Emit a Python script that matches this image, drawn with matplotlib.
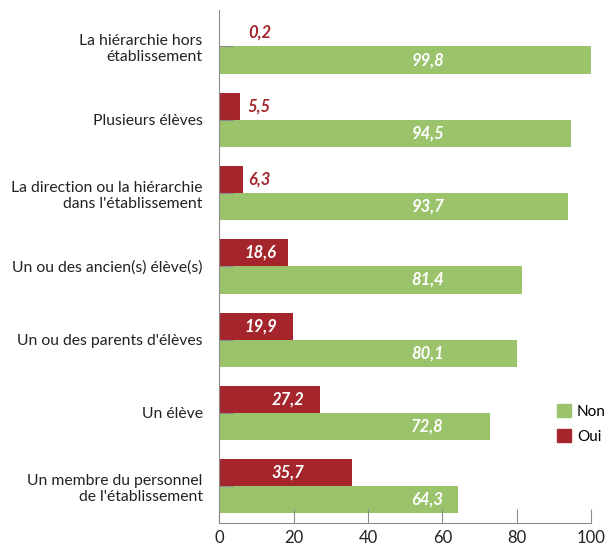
import matplotlib
matplotlib.use("Agg")
import matplotlib.pyplot as plt
import matplotlib.patches as mpatches
import numpy as np

plt.rcParams["font.family"] = ["Lato", "DejaVu Sans"]

categories = [
    "La hiérarchie hors\nétablissement",
    "Plusieurs élèves",
    "La direction ou la hiérarchie\ndans l'établissement",
    "Un ou des ancien(s) élève(s)",
    "Un ou des parents d'élèves",
    "Un élève",
    "Un membre du personnel\nde l'établissement",
]
oui = [0.2, 5.5, 6.3, 18.6, 19.9, 27.2, 35.7]
non = [99.8, 94.5, 93.7, 81.4, 80.1, 72.8, 64.3]

RED = "#A4262C"
GREEN = "#9BC36B"
GREY = "#8C8C8C"

fig = plt.figure(figsize=(6.09, 5.47), dpi=100)
ax = fig.add_axes([0.360, 0.044, 0.611, 0.938])

# top category first
y = np.arange(len(categories))[::-1]
h = 0.37
ax.barh(y + h / 2, oui, height=h, color=RED)
ax.barh(y - h / 2, non, height=h, color=GREEN)

fmt = lambda v: f"{v:.1f}".replace(".", ",")
lab = dict(fontsize=12, fontweight="bold", fontstyle="italic",
           va="center", ha="center")

for yi, v in zip(y, oui):
    # small values sit just past the bar in red, the rest inside in white
    if v < 10:
        ax.text(10.8, yi + h / 2, fmt(v), color=RED, **lab)
    elif v < 20:
        ax.text(11.2, yi + h / 2, fmt(v), color="white", **lab)
    else:
        ax.text(18.5, yi + h / 2, fmt(v), color="white", **lab)

for yi, v in zip(y, non):
    ax.text(56, yi - h / 2, fmt(v), color="white", **lab)

ax.set_xlim(0, 100)
ax.set_ylim(-0.5, len(categories) - 0.5)
ax.set_xticks(range(0, 101, 20))
ax.set_yticks(y)
ax.set_yticklabels(categories, fontsize=11.3, color="#222222", multialignment="right")

for s in ("top", "right"):
    ax.spines[s].set_visible(False)
for s in ("left", "bottom"):
    ax.spines[s].set_color(GREY)
ax.tick_params(axis="x", direction="in", length=10, color=GREY, labelsize=12,
               labelcolor="#222222", pad=5)
ax.tick_params(axis="y", direction="in", length=10, color=GREY, pad=12)

handles = [mpatches.Patch(color=GREEN, label="Non"),
           mpatches.Patch(color=RED, label="Oui")]
fig.legend(handles=handles, loc="center left", bbox_to_anchor=(0.905, 0.225),
           frameon=False, fontsize=11, handlelength=0.9, handleheight=0.9,
           handletextpad=0.4, labelspacing=0.7, borderaxespad=0)

fig.savefig("out.png", dpi=100)
